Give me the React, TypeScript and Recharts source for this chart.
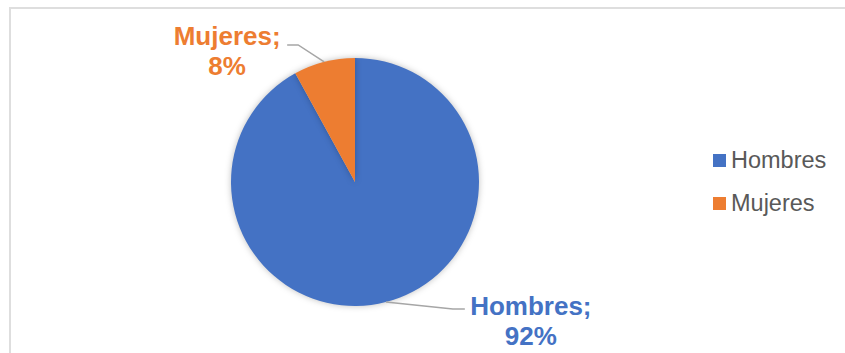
import { Cell, Legend, Pie, PieChart } from 'recharts'

const names = ['Hombres', 'Mujeres']
const values = [92, 8]
const colors = ['#4472C4', '#ED7D31']

const data = names.map((name, i) => ({ name, value: values[i] }))

// where Excel put each data label, relative to the slice edge
const labelLayout: Record<string, { ex: number; ey: number; tail: number; tx: number; ty: number }> = {
  Hombres: { ex: 67, ey: 7, tail: 12, tx: 66, ty: 6 },
  Mujeres: { ex: -26, ey: -17, tail: -11, tx: -60, ty: 0 },
}

const FONT = '"Liberation Sans", Arial, sans-serif'
const RAD = Math.PI / 180

function renderLabel(props: any) {
  const { cx, cy, midAngle, outerRadius, index, name, value } = props
  const x0 = cx + outerRadius * Math.cos(-midAngle * RAD)
  const y0 = cy + outerRadius * Math.sin(-midAngle * RAD)
  const l = labelLayout[name]
  const x1 = x0 + l.ex
  const y1 = y0 + l.ey
  const x2 = x1 + l.tail
  return (
    <g>
      <polyline
        points={`${x0},${y0} ${x1},${y1} ${x2},${y1}`}
        fill="none"
        stroke="#a6a6a6"
        strokeWidth={1.5}
      />
      <text
        x={x2 + l.tx}
        y={y1 + l.ty}
        textAnchor="middle"
        fill={colors[index]}
        fontFamily={FONT}
        fontWeight="bold"
        fontSize={26}
      >
        <tspan x={x2 + l.tx}>{name};</tspan>
        <tspan x={x2 + l.tx} dy={30}>{value}%</tspan>
      </text>
    </g>
  )
}

function renderLegend() {
  return (
    <div style={{ fontFamily: FONT, fontSize: 23.5, color: '#595959' }}>
      {names.map((n, i) => (
        <div key={n} style={{ display: 'flex', alignItems: 'center', height: 43 }}>
          <span style={{ width: 13, height: 13, background: colors[i], marginRight: 5 }} />
          <span>{n}</span>
        </div>
      ))}
    </div>
  )
}

export default function App() {
  return (
    <div style={{ position: 'absolute', left: 0, top: 0, width: 845, height: 353, overflow: 'hidden', background: '#fff' }}>
      <style>{`.recharts-pie-sector path { filter: drop-shadow(0 0 3px rgba(0,0,0,0.25)); }`}</style>
      <div
        style={{
          position: 'absolute',
          left: 9,
          top: 7,
          width: 900,
          height: 400,
          border: '2px solid #dedede',
        }}
      />
      <PieChart
        width={845}
        height={353}
        margin={{ top: 0, right: 0, bottom: 0, left: 0 }}
        style={{ position: 'absolute', left: 0, top: 0 }}
      >
        <Pie
          data={data}
          dataKey="value"
          nameKey="name"
          cx={355}
          cy={182}
          outerRadius={124}
          startAngle={90}
          endAngle={-270}
          stroke="none"
          label={renderLabel}
          labelLine={false}
          isAnimationActive={false}
        >
          {data.map((d, i) => (
            <Cell key={d.name} fill={colors[i]} />
          ))}
        </Pie>
        <Legend
          content={renderLegend}
          wrapperStyle={{ left: 713, top: 139, width: 130, bottom: 'auto', right: 'auto' }}
        />
      </PieChart>
    </div>
  )
}
